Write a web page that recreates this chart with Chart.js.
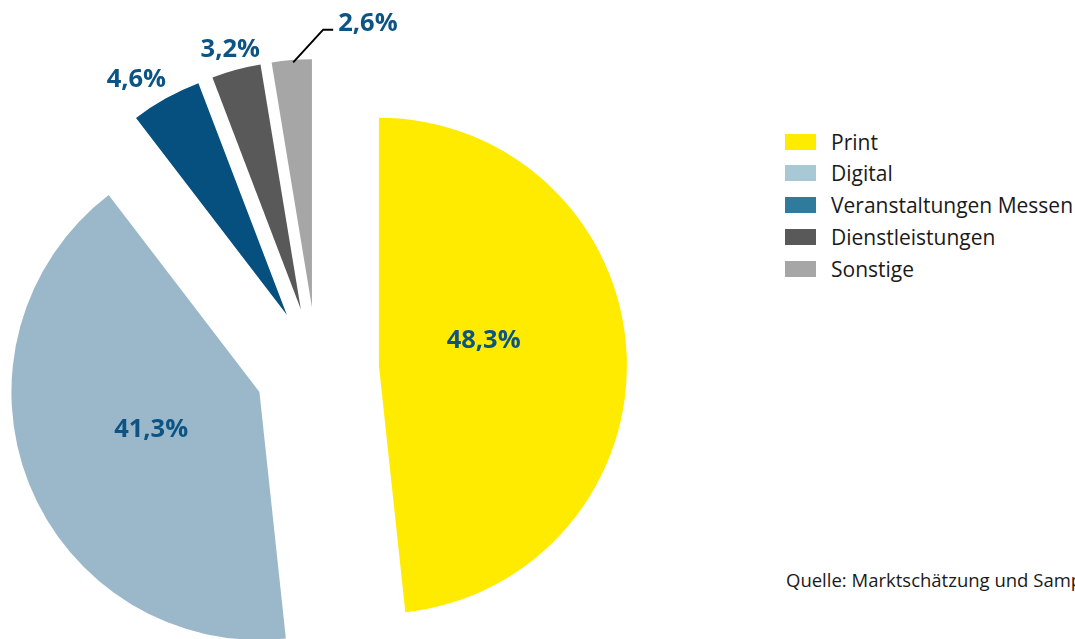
<!DOCTYPE html>
<html>
<head>
<meta charset="utf-8">
<script src="https://cdn.jsdelivr.net/npm/chart.js@4/dist/chart.umd.min.js"></script>
<style>
  html, body { margin: 0; padding: 0; width: 1075px; height: 639px; overflow: hidden; background: #ffffff; }
  body { font-family: "Open Sans", "Noto Sans", sans-serif; position: relative; }
  #wrap { position: absolute; left: 0; top: 0; width: 634px; height: 738px; }
  #legend { position: absolute; left: 785px; top: 0; }
  .lg-item { position: absolute; left: 0; white-space: nowrap; height: 24px; }
  .lg-box { position: absolute; left: 0; top: 4px; width: 31px; height: 16px; }
  .lg-text { position: absolute; left: 46px; top: -2px; font-size: 21px; line-height: 28px; color: #1a1a1a; }
  #source { position: absolute; left: 786px; top: 567px; width: 289px; overflow: hidden; white-space: nowrap;
            font-size: 18.5px; line-height: 26px; color: #1a1a1a; }
</style>
</head>
<body>
<div id="wrap"><canvas id="c" width="634" height="738" style="width:634px;height:738px"></canvas></div>
<div id="legend"></div>
<div id="source">Quelle: Marktschätzung und Sample</div>
<script>
// ---- data ----
const categories = ['Print', 'Digital', 'Veranstaltungen Messen', 'Dienstleistungen', 'Sonstige'];
const shares = [48.3, 41.3, 4.6, 3.2, 2.6];
const valueLabels = ['48,3%', '41,3%', '4,6%', '3,2%', '2,6%'];

// ---- styles ----
const sliceColors = ['#FFEB00', '#9BB8CB', '#05507E', '#595959', '#A6A6A6'];
const legendColors = ['#FFEB00', '#A9C8D6', '#2E7B9D', '#595959', '#A6A6A6'];
const LABEL_COLOR = '#0B5483';
const EXPLODE = 62;
const RADIUS = 248;
// label placement: angle shift from slice mid angle (deg), distance as fraction of radius
const labelPlace = [
  { shift: -11.3, f: 0.436 },
  { shift: 3.4, f: 0.46 },
  { shift: -3.3, f: 1.13 },
  { shift: 0, f: 1.09 },
  { shift: 15.8, f: 1.17 }
];

// legend (HTML)
const lg = document.getElementById('legend');
categories.forEach((name, i) => {
  const it = document.createElement('div');
  it.className = 'lg-item';
  it.style.top = (129.5 + i * 31.8) + 'px';
  it.innerHTML = '<div class="lg-box" style="background:' + legendColors[i] + '"></div><div class="lg-text">' + name + '</div>';
  lg.appendChild(it);
});

const explodePlugin = {
  id: 'explode',
  beforeDatasetDraw(chart, args) {
    const ctx = chart.ctx;
    args.meta.data.forEach(arc => {
      const mid = (arc.startAngle + arc.endAngle) / 2;
      ctx.save();
      ctx.translate(Math.cos(mid) * EXPLODE, Math.sin(mid) * EXPLODE);
      arc.draw(ctx, chart.chartArea);
      ctx.restore();
    });
    return false;
  },
  afterDatasetsDraw(chart) {
    const ctx = chart.ctx;
    const arcs = chart.getDatasetMeta(0).data;
    ctx.save();
    ctx.font = 'bold 25.5px "Open Sans"';
    ctx.fillStyle = LABEL_COLOR;
    ctx.textBaseline = 'alphabetic';
    arcs.forEach((arc, i) => {
      const mid = (arc.startAngle + arc.endAngle) / 2;
      const cx = arc.x + Math.cos(mid) * EXPLODE;
      const cy = arc.y + Math.sin(mid) * EXPLODE;
      const p = labelPlace[i];
      const a = mid + p.shift * Math.PI / 180;
      const r = arc.outerRadius * p.f;
      const lx = cx + Math.cos(a) * r;
      const ly = cy + Math.sin(a) * r;
      const w = ctx.measureText(valueLabels[i]).width;
      ctx.textAlign = 'center';
      ctx.fillText(valueLabels[i], lx, ly + 9);
      if (i === 4) {
        // leader line
        const a1 = mid + 0.3 * Math.PI / 180;
        const r1 = arc.outerRadius * 0.99;
        const a2 = mid + 7 * Math.PI / 180;
        const r2 = arc.outerRadius * 1.12;
        const x1 = cx + Math.cos(a1) * r1, y1 = cy + Math.sin(a1) * r1;
        const x2 = cx + Math.cos(a2) * r2, y2 = cy + Math.sin(a2) * r2;
        const x3 = lx - w / 2 - 5;
        ctx.beginPath();
        ctx.moveTo(x1, y1);
        ctx.lineTo(x2, y2);
        ctx.lineTo(x3, y2);
        ctx.strokeStyle = '#000000';
        ctx.lineWidth = 2;
        ctx.stroke();
      }
    });
    ctx.restore();
  }
};

new Chart(document.getElementById('c'), {
  type: 'pie',
  data: {
    labels: categories,
    datasets: [{
      data: shares,
      backgroundColor: sliceColors,
      borderWidth: 0
    }]
  },
  options: {
    responsive: false,
    animation: false,
    radius: RADIUS,
    layout: { padding: 0 },
    plugins: { legend: { display: false }, tooltip: { enabled: false } }
  },
  plugins: [explodePlugin]
});
</script>
</body>
</html>
